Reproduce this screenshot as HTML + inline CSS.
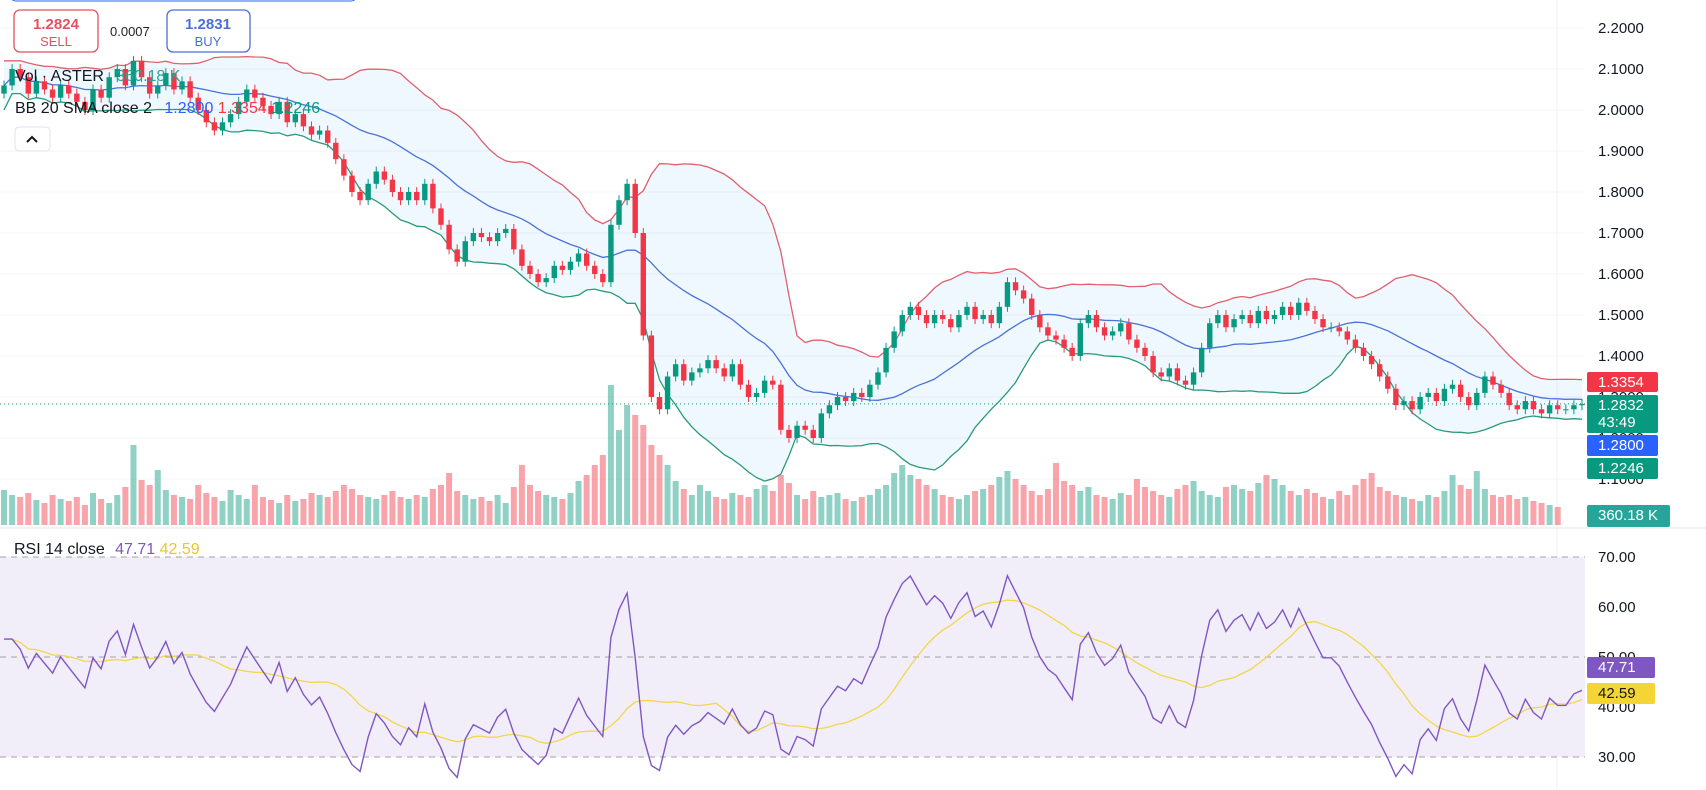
<!DOCTYPE html>
<html><head><meta charset="utf-8">
<style>
body{margin:0;background:#fff;font-family:"Liberation Sans",sans-serif;}
svg{display:block}
text{font-family:"Liberation Sans",sans-serif}
</style></head>
<body>
<svg id="chart" width="1706" height="790" viewBox="0 0 1706 790">
  <rect x="0" y="0" width="1706" height="790" fill="#fff"/>
  <g id="grid"></g>
  <rect x="0" y="557" width="1585" height="200" fill="#f2eef9"/>
  <g id="bb"></g>
  <g id="vol"></g>
  <g id="candles"></g>
  <g id="rsi"></g>
  <g id="axis"></g>
  <line x1="0" y1="528" x2="1706" y2="528" stroke="#e0e3eb"/>

  <rect x="10" y="-10" width="347" height="11" rx="6" fill="none" stroke="#2962ff"/>
  <g>
    <rect x="14" y="10" width="84" height="42" rx="6" fill="#fff" stroke="#e05260" stroke-width="1.3"/>
    <text x="56" y="29" text-anchor="middle" font-size="15" font-weight="bold" fill="#e05260">1.2824</text>
    <text x="56" y="46" text-anchor="middle" font-size="13" fill="#e05260">SELL</text>
  </g>
  <text x="110" y="36" font-size="13" fill="#222">0.0007</text>
  <g>
    <rect x="167" y="10" width="83" height="42" rx="6" fill="#fff" stroke="#4a6fd6" stroke-width="1.3"/>
    <text x="208" y="29" text-anchor="middle" font-size="15" font-weight="bold" fill="#4a6fd6">1.2831</text>
    <text x="208" y="46" text-anchor="middle" font-size="13" fill="#4a6fd6">BUY</text>
  </g>
  <text x="15" y="81" font-size="16" fill="#131722">Vol · ASTER <tspan fill="#26a69a" dx="8">360.18 K</tspan></text>
  <text x="15" y="113" font-size="16" fill="#131722">BB 20 SMA close 2 <tspan fill="#2962ff" dx="8">1.2800</tspan> <tspan fill="#f23645">1.3354</tspan> <tspan fill="#089981">1.2246</tspan></text>
  <g>
    <rect x="15" y="127" width="35" height="24" rx="4" fill="#fff" stroke="#e0e3eb"/>
    <path d="M27 142 L32 137 L37 142" fill="none" stroke="#131722" stroke-width="2"/>
  </g>
  <text x="14" y="554" font-size="16" fill="#131722">RSI 14 close <tspan fill="#7e57c2" dx="6">47.71</tspan> <tspan fill="#e8c536">42.59</tspan></text>
</svg>
<script>
const closes=[2.06,2.1,2.08,2.04,2.07,2.05,2.03,2.06,2.04,
2.02,2.0,2.05,2.03,2.08,2.1,2.06,2.12,2.08,2.04,2.06,2.09,2.05,2.07,2.03,
2.0,1.97,1.95,1.97,
1.99,2.02,2.05,2.03,2.01,1.99,2.02,1.97,1.99,1.96,
1.94,1.95,1.92,1.88,1.84,1.8,1.78,
1.82,1.85,1.83,1.8,1.78,1.8,
1.78,1.82,1.76,1.72,1.66,1.63,
1.68,1.7,1.69,1.68,1.7,1.71,1.66,1.62,
1.6,1.58,1.59,1.62,1.61,1.63,
1.65,1.62,1.6,1.58,
1.72,1.78,1.82,
1.7,1.45,1.3,
1.27,1.35,1.38,1.34,
1.36,1.37,1.39,1.37,1.35,1.38,
1.33,1.3,1.31,1.34,1.33,1.22,
1.2,1.23,1.22,1.2,
1.26,1.28,1.3,1.29,1.31,1.3,
1.33,1.36,1.42,1.46,1.5,
1.52,1.5,1.48,1.5,1.49,1.47,
1.5,1.52,1.49,1.5,1.48,1.52,
1.58,1.56,1.54,
1.5,1.47,1.45,1.44,1.42,1.4,
1.48,1.5,1.47,1.45,1.46,1.48,
1.44,1.42,1.4,1.36,1.35,1.37,
1.34,1.33,1.36,1.42,
1.48,1.5,1.47,1.49,1.5,
1.48,1.51,1.49,1.5,1.52,
1.5,1.53,1.51,1.49,1.47,
1.47,1.46,1.44,1.42,1.4,
1.38,1.35,1.32,1.28,1.29,
1.27,1.3,1.31,1.29,1.32,1.33,
1.3,1.28,1.31,1.35,
1.33,1.31,1.28,1.27,1.29,
1.27,1.26,1.28,1.27,1.27,1.28,1.283];
const firstOpen=2.04;
const volumes=[35,30,28,32,25,22,30,26,24,28,20,32,26,22,30,38,80,45,40,55,35,30,28,26,
40,32,28,24,35,30,26,40,28,25,22,30,24,26,32,30,28,34,40,36,30,28,26,30,34,28,26,
30,28,36,40,52,34,30,26,28,24,30,22,38,60,40,34,30,28,26,32,44,50,60,70,140,95,120,
110,100,80,70,60,44,36,30,40,34,28,26,32,30,28,36,40,34,50,42,30,26,34,28,30,32,
26,24,28,30,36,40,52,60,50,46,40,36,30,28,26,30,34,36,40,48,54,46,40,34,30,36,62,
44,40,34,38,30,28,26,32,30,46,38,34,30,28,36,40,44,34,30,28,38,40,36,34,42,50,46,
40,34,30,36,32,28,26,34,30,40,46,52,38,34,30,28,26,24,30,28,34,50,40,36,54,36,30,28,
30,26,28,24,22,20,18];
const priceTicks=["2.2000","2.1000","2.0000","1.9000","1.8000","1.7000","1.6000","1.5000","1.4000","1.3000","1.2000","1.1000"];
const priceTickVals=[2.2,2.1,2.0,1.9,1.8,1.7,1.6,1.5,1.4,1.3,1.2,1.1];
const rsiTickVals=[70,60,50,40,30];
const rsiTicks=["70.00","60.00","50.00","40.00","30.00"];
const lastPrice=1.2832;

const NS="http://www.w3.org/2000/svg";
const yP=p=>28+(2.2-p)*410;
const yR=r=>557+(70-r)*5;
const step=1578/(closes.length-1);
const xI=i=>4+i*step;
function mk(tag,attrs,parent){const e=document.createElementNS(NS,tag);for(const k in attrs)e.setAttribute(k,attrs[k]);parent.appendChild(e);return e;}
const G=id=>document.getElementById(id);

// grid + axis labels
priceTickVals.forEach((v,k)=>{
  if(yP(v)<500){const l=mk('line',{x1:0,x2:1585,y1:yP(v),y2:yP(v),stroke:'#f3f4f7'},G('grid'));
  
  }
  const t=mk('text',{x:1598,y:yP(v)+5,'font-size':15,fill:'#131722'},G('axis'));
  t.textContent=priceTicks[k];
  
  
});
rsiTickVals.forEach((v,k)=>{
  const t=mk('text',{x:1598,y:yR(v)+5,'font-size':15,fill:'#131722'},G('axis'));
  t.textContent=rsiTicks[k];
  
  
});
mk('line',{x1:1557,x2:1557,y1:0,y2:790,stroke:'#f0f1f4'},G('grid'));

// bollinger
const mid=[],up=[],lo=[];
closes.forEach((c,i)=>{const w=closes.slice(Math.max(0,i-19),i+1);const m=w.reduce((a,b)=>a+b,0)/w.length;
  const sd=Math.sqrt(w.reduce((a,b)=>a+(b-m)*(b-m),0)/w.length)||0.03;mid.push(m);up.push(m+2*Math.max(sd,0.02));lo.push(m-2*Math.max(sd,0.02));});
const pts=a=>a.map((v,i)=>xI(i).toFixed(1)+','+yP(v).toFixed(1));
const fill=mk('polygon',{points:pts(up).concat(pts(lo).reverse()).join(' '),fill:'rgba(33,150,243,0.07)'},G('bb'));


[[up,'#e0606c','bb-upper'],[mid,'#4a72d8','bb-basis'],[lo,'#2a9a78','bb-lower']].forEach(([a,c,n])=>{
  const l=mk('polyline',{points:pts(a).join(' '),fill:'none',stroke:c,'stroke-width':1.3},G('bb'));
  
  
});
// last price line
const lp=mk('line',{x1:0,x2:1585,y1:yP(lastPrice),y2:yP(lastPrice),stroke:'#089981','stroke-dasharray':'1 3'},G('bb'));



// candles & volume
const vmax=140;
closes.forEach((c,i)=>{
  const o=i?closes[i-1]:firstOpen;const isUp=c>=o;const col=isUp?'#089981':'#f23645';
  const x=xI(i);const hi=Math.max(o,c)+0.012, lw=Math.min(o,c)-0.012;
  const vb=mk('rect',{x:x-3,width:6,y:525-volumes[i]/vmax*140,height:volumes[i]/vmax*140,fill:isUp?'rgba(8,153,129,0.45)':'rgba(242,54,69,0.45)'},G('vol'));
  
  
  const w=mk('line',{x1:x,x2:x,y1:yP(hi),y2:yP(lw),stroke:col},G('candles'));
  
  
  const b=mk('rect',{x:x-2.7,width:5.4,y:yP(Math.max(o,c)),height:Math.max(1,Math.abs(yP(o)-yP(c))),fill:col},G('candles'));
  
  
});

// RSI
const rsi=[];let ag=0,al=0;const P=14;
for(let i=1;i<closes.length;i++){const d=closes[i]-closes[i-1];const g=Math.max(d,0),l=Math.max(-d,0);
  if(i===1){ag=0.02;al=0.02;}ag=(ag*(P-1)+g)/P;al=(al*(P-1)+l)/P;rsi.push(100-100/(1+ag/al));}
rsi.unshift(rsi[0]);
const rma=rsi.map((v,i)=>{const w=rsi.slice(Math.max(0,i-13),i+1);return w.reduce((a,b)=>a+b,0)/w.length;});
[70,50,30].forEach(v=>{const l=mk('line',{x1:0,x2:1585,y1:yR(v),y2:yR(v),stroke:'#888','stroke-dasharray':'6 5','stroke-width':0.8},G('rsi'));
  
  });
const rp=a=>a.map((v,i)=>xI(i).toFixed(1)+','+yR(Math.max(25,Math.min(75,v))).toFixed(1)).join(' ');
const ml=mk('polyline',{points:rp(rma),fill:'none',stroke:'#f2d64b','stroke-width':1.3},G('rsi'));


const rl=mk('polyline',{points:rp(rsi),fill:'none',stroke:'#7e57c2','stroke-width':1.4},G('rsi'));



// tags
function tag(y,h,bg,txt,name,fg,w){const g=mk('g',{},G('axis'));
  
  
  mk('rect',{x:1587,y:y,width:w||71,height:h,rx:2,fill:bg},g);
  txt.forEach((t,k)=>{const e=mk('text',{x:1598,y:y+15+k*17,'font-size':15,fill:fg||'#fff'},g);e.textContent=t;});}
tag(372,20,'#f23645',['1.3354'],'bb-upper-tag');
tag(395,38,'#089981',['1.2832','43:49'],'last-price-tag');
tag(435,21,'#2962ff',['1.2800'],'bb-basis-tag');
tag(458,21,'#089981',['1.2246'],'bb-lower-tag');
tag(505,22,'#26a69a',['360.18 K'],'volume-tag',null,83);
tag(657,21,'#7e57c2',['47.71'],'rsi-tag',null,68);
tag(683,21,'#f5d535',['42.59'],'rsi-ma-tag','#131722',68);
</script>
</body></html>
